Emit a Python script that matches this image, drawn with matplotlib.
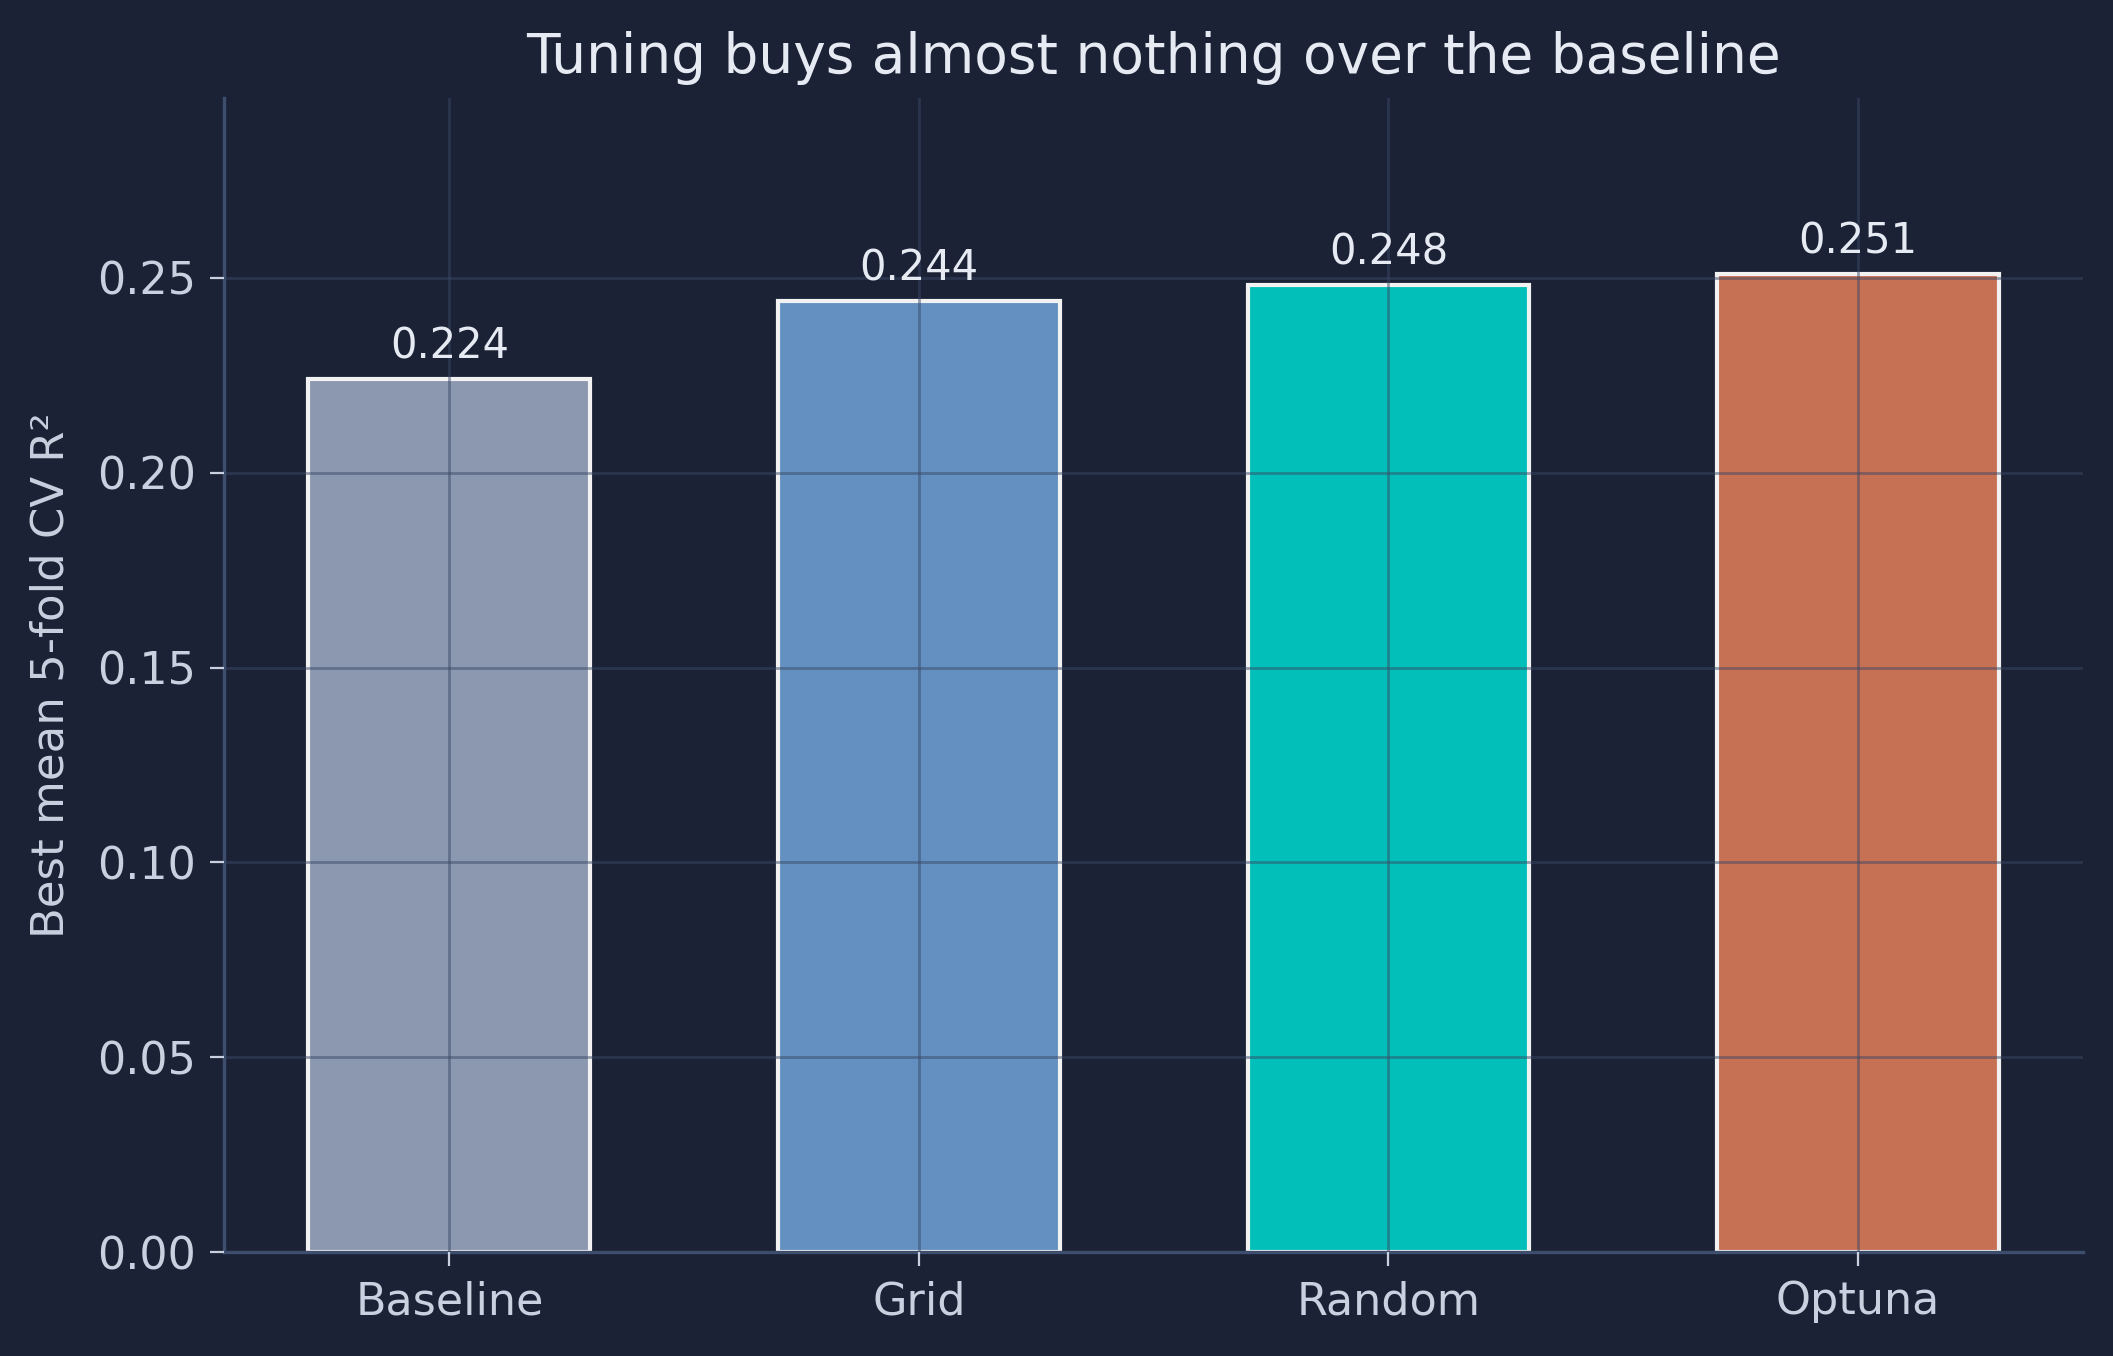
import matplotlib
matplotlib.use("Agg")
import matplotlib.pyplot as plt
import numpy as np

methods = ["Baseline", "Grid", "Random", "Optuna"]
scores = [0.224, 0.244, 0.248, 0.251]
colors = ["#8c98b0", "#6390c0", "#02c0b9", "#c67054"]

bg = "#1b2235"
text_col = "#e6eaf2"
tick_col = "#c9d1e0"
spine_col = "#3e4e6e"

plt.rcParams['font.family'] = 'DejaVu Sans'

fig, ax = plt.subplots(figsize=(10.565, 6.78), dpi=200)
fig.patch.set_facecolor(bg)
ax.set_facecolor(bg)

x = np.arange(len(methods))
bars = ax.bar(x, scores, width=0.6, color=colors, edgecolor="#f2f2f2", linewidth=1.5)

for b, v in zip(bars, scores):
    ax.text(b.get_x() + b.get_width() / 2, v + 0.003, f"{v:.3f}",
            ha="center", va="bottom", fontsize=15, color=text_col)

ax.set_xticks(x)
ax.set_xticklabels(methods)
ax.set_ylim(0, max(scores) * 1.18)
ax.set_yticks(np.arange(0, 0.26, 0.05))
ax.yaxis.set_major_formatter(matplotlib.ticker.FormatStrFormatter('%.2f'))

ax.set_title("Tuning buys almost nothing over the baseline", fontsize=19.8, color=text_col, pad=9)
ax.set_ylabel("Best mean 5-fold CV R²", fontsize=16.2, color=tick_col, labelpad=9)

ax.tick_params(colors=tick_col, labelsize=16, length=5, pad=5)
for s in ["top", "right"]:
    ax.spines[s].set_visible(False)
for s in ["left", "bottom"]:
    ax.spines[s].set_color(spine_col)
    ax.spines[s].set_linewidth(1.2)

ax.set_axisbelow(False)
ax.grid(True, color="#3a4866", alpha=0.5, linewidth=1.0)

fig.subplots_adjust(left=0.106, right=0.986, top=0.928, bottom=0.0765)
fig.savefig("out.png", dpi=200, facecolor=bg)
